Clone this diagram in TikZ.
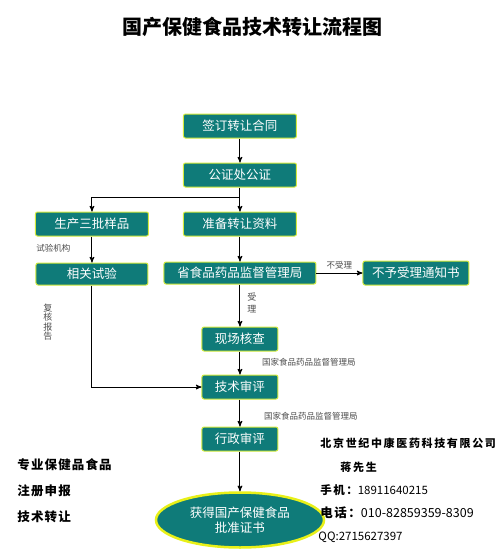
\documentclass[tikz,border=0pt]{standalone}
\usepackage{fontspec}
\setmainfont{Noto Sans CJK SC}
\usetikzlibrary{arrows,shapes.geometric}

\definecolor{boxteal}{HTML}{0F7B79}
\definecolor{boxrim}{HTML}{D4EA3C}
\definecolor{ovalrim}{HTML}{E8F018}

\begin{document}
\begin{tikzpicture}[x=1pt,y=1pt,->,>=stealth',node distance=49pt,
                    line width=1pt]
  \tikzstyle{stage}=[draw=boxrim,fill=boxteal,text=white,rounded corners=2pt,
                     minimum height=24pt,line width=1pt,inner sep=2pt,
                     font=\fontsize{12.5}{14}\selectfont]
  \tikzstyle{note}=[font=\fontsize{8.5}{10}\selectfont,text=black!70]
  \tikzstyle{spaced}=[anchor=west,inner sep=0pt,text=black,
                      font=\fontsize{12.5}{14}\selectfont\bfseries\addfontfeature{LetterSpace=9}]

  \useasboundingbox (-240,126) rectangle (260,-429);

  \node[font=\fontsize{20}{22}\selectfont\bfseries] (title) at (12.5,99) {国产保健食品技术转让流程图};

  \node[stage,minimum width=113pt] (sign)                                  {签订转让合同};
  \node[stage,minimum width=113pt] (notary)  [below of=sign]               {公证处公证};
  \node[stage,minimum width=113pt] (prepare) [below of=notary]             {准备转让资料};
  \node[stage,minimum width=113pt] (samples) [left of=prepare,node distance=148pt] {生产三批样品};
  \node[stage,minimum width=112pt,minimum height=22pt] (trial) [below of=samples,node distance=50pt] {相关试验};
  \node[stage,minimum width=152pt,minimum height=22pt] (prov) [below of=prepare] {省食品药品监督管理局};
  \node[stage,minimum width=106pt] (reject)  [right of=prov,node distance=176pt] {不予受理通知书};
  \node[stage,minimum width=76pt]  (inspect) [below of=prov,node distance=66pt]  {现场核查};
  \node[stage,minimum width=76pt]  (review)  [below of=inspect,node distance=48pt] {技术审评};
  \node[stage,minimum width=76pt]  (admin)   [below of=review,node distance=52pt] {行政审评};
  \node[stage,ellipse,draw=ovalrim,line width=2.5pt,minimum width=168pt,minimum height=55pt,
        align=center,font=\fontsize{12.5}{15}\selectfont]
        (cert) [below of=admin,node distance=81pt] {获得国产保健食品\\批准证书};

  \coordinate[below of=notary,node distance=22pt] (fork);

  \draw[-] (notary) -- (fork);
  \draw (fork) -- (prepare);
  \draw (fork) -| (samples);
  \draw (sign) -- (notary);
  \draw (samples) -- (trial);
  \draw (prepare) -- (prov);
  \draw (prov) -- node[note,above] {不受理} (reject);
  \draw (prov) -- (inspect);
  \draw (inspect) -- (review);
  \draw (trial) |- (review);
  \draw (review) -- (admin);
  \draw (admin) -- (cert);

  % side notes
  \node[note] (lab)      at (-186.5,-122) {试验机构};
  \node[note,align=center,font=\fontsize{9}{9.5}\selectfont] (recheck) at (-192,-196) {复\\核\\报\\告};
  \node[note,align=center,font=\fontsize{9}{12.5}\selectfont] (accept) at (12,-177) {受\\理};
  \node[note] (sfda1) at (69,-236) {国家食品药品监督管理局};
  \node[note] (sfda2) at (71,-290) {国家食品药品监督管理局};

  % advert text
  \node[spaced] (ad1) at (-223,-339) {专业保健品食品};
  \node[spaced] (ad2) at (-223,-365) {注册申报};
  \node[spaced] (ad3) at (-223,-391) {技术转让};

  \node[spaced,font=\fontsize{11}{12}\selectfont\bfseries\addfontfeature{LetterSpace=15}]
       (firm)  at (80,-317) {北京世纪中康医药科技有限公司};
  \node[spaced,font=\fontsize{11}{12}\selectfont\bfseries\addfontfeature{LetterSpace=15}]
       (agent) at (100,-341) {蒋先生};
  \node[spaced,font=\fontsize{11.5}{13}\selectfont] (mobile) at (80,-364) {{\bfseries\addfontfeature{LetterSpace=12}手机：}18911640215};
  \node[spaced,font=\fontsize{12.5}{14}\selectfont] (phone)  at (80,-387) {{\bfseries\addfontfeature{LetterSpace=12}电话：}010-82859359-8309};
  \node[spaced,font=\fontsize{11.5}{13}\selectfont] (qq)     at (78,-411) {QQ:2715627397};
\end{tikzpicture}
\end{document}
